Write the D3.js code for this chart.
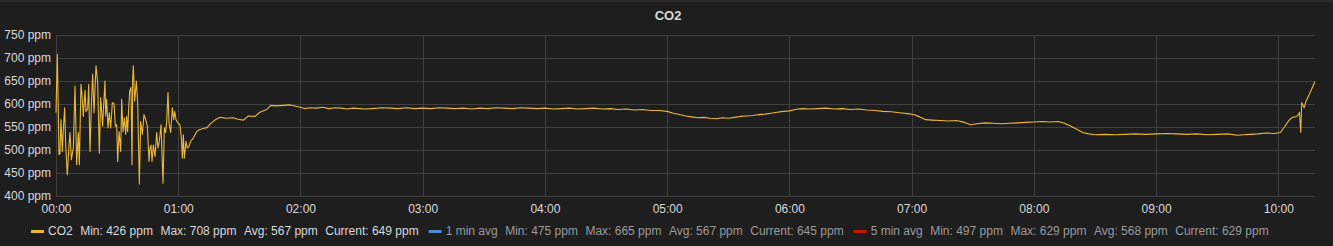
<!DOCTYPE html>
<html>
<head>
<meta charset="utf-8">
<script src="https://cdn.jsdelivr.net/npm/d3@7"></script>
<style>
    html, body { margin: 0; padding: 0; background: #1f1e1f; }
    svg { display: block; font-family: "Liberation Sans", Arial, Helvetica, sans-serif; }
</style>
</head>
<body>
<svg id="chart" width="1333" height="246"></svg>
<script>
// data: minutes since 00:00 and CO2 ppm
const co2Minutes = [
    0, 0.65, 1.47, 1.96, 2.45, 3.11, 3.6, 4.25, 4.75, 5.56, 6.38, 6.87, 7.53, 8.51, 9.33, 10.15, 10.96, 11.45,
    12.27, 12.76, 13.42, 14.24, 14.73, 15.55, 16.04, 16.69, 17.51, 18.0, 18.65, 19.64, 20.46, 21.27, 21.93,
    22.91, 23.23, 24.05, 24.38, 24.87, 25.53, 26.18, 26.84, 27.65, 28.47, 29.13, 29.78, 30.27, 30.93, 31.75,
    32.24, 32.89, 33.55, 34.2, 34.69, 35.18, 35.68, 36.17, 36.82, 37.31, 37.64, 37.97, 38.62, 39.44, 40.1,
    40.91, 41.57, 42.39, 43.2, 44.02, 44.84, 45.66, 46.15, 46.64, 47.13, 47.78, 48.6, 49.42, 50.07, 50.73,
    51.55, 52.04, 52.53, 53.18, 53.84, 54.33, 54.98, 55.47, 56.29, 57.11, 57.76, 58.26, 58.91, 59.73, 60.87,
    61.53, 62.02, 62.51, 63.0, 63.82, 64.47, 65.29, 66.11, 67.42, 69.06, 70.37, 73.15, 74, 76, 78, 80.5,
    83.8, 87, 89.3, 92, 94.4, 97.7, 100.1, 103.4, 105.4, 108, 111.6, 114.9, 117.8,
    120, 122, 125, 128, 131, 134, 137, 140, 143, 146, 149, 152, 155, 158, 160, 164, 168, 172, 176, 180,
    184, 188, 192, 196, 200, 204, 208, 212, 216, 220, 224, 228, 232, 236, 240, 244, 248, 252, 256, 260,
    264, 268, 272, 276, 280, 284, 288, 292, 296, 300, 303, 306, 309, 312, 315, 318, 321, 324, 327, 330,
    333, 336, 339, 342, 345, 348, 351, 354, 357, 360, 363, 366, 370, 374, 378, 382, 386, 390, 394, 398,
    402, 406, 410, 414, 418, 421, 424, 427, 430, 434, 438, 442, 446, 449, 452, 456, 460, 464, 468, 472,
    476, 480, 484, 488, 492, 495, 498, 501, 504, 507, 510, 515, 520, 525, 530, 535, 540, 545, 550, 555,
    560, 565, 570, 575, 580, 583, 586, 590, 594, 598, 601, 603, 604.5, 606, 607, 609, 610, 610.4, 611,
    611.5, 612.7, 613.6, 615.6, 618
];
const co2Values = [
    581, 708, 490, 492, 566, 497, 544, 592, 511, 446, 511, 538, 479, 505, 639, 468, 538, 468,
    643, 621, 573, 630, 584, 590, 643, 497, 617, 665, 581, 683, 646, 493, 614,
    552, 584, 650, 574, 610, 548, 581, 548, 603, 601, 552, 555, 475, 540, 497,
    610, 540, 570, 534, 573, 540, 592, 628, 636, 468, 655, 683, 606, 650, 601,
    426, 562, 534, 577, 566, 552, 475, 504, 511, 475, 511, 486, 538, 504, 519,
    555, 490, 428, 548, 538, 562, 625, 559, 538, 592, 566, 584, 566, 559, 555,
    526, 482, 533, 482, 519, 504, 508, 519, 526, 540, 544, 548, 548, 558, 565, 571,
    569, 570, 567, 565, 574, 573, 582, 588, 597, 596, 597, 598, 595,
    593, 590, 592, 591, 593, 590, 592, 591, 589, 591, 590, 589, 590, 591, 592, 591, 590, 592, 590, 591,
    590, 592, 591, 590, 591, 589, 591, 590, 592, 591, 590, 592, 591, 590, 591, 589, 590, 591, 589, 590,
    591, 589, 590, 588, 589, 587, 588, 586, 586, 584, 580, 577, 574, 572, 570, 571, 569, 568, 570, 569,
    571, 573, 574, 575, 577, 578, 580, 582, 584, 585, 588, 590, 589, 590, 591, 589, 590, 588, 589, 587,
    586, 584, 583, 581, 579, 577, 572, 566, 565, 564, 563, 564, 560, 555, 557, 559, 558, 557, 558, 559,
    560, 561, 562, 561, 562, 558, 552, 545, 538, 535, 533, 534, 533, 534, 535, 534, 535, 536, 535, 534,
    535, 533, 534, 535, 532, 533, 534, 535, 537, 536, 538, 550, 560, 568, 571, 573, 578, 582, 538,
    603, 592, 606, 625, 649
];
const yTicks = [400, 450, 500, 550, 600, 650, 700, 750];
const xTickHours = [0, 1, 2, 3, 4, 5, 6, 7, 8, 9, 10];
const legendNames = ["CO2", "1 min avg", "5 min avg"];
const legendColors = ["#eab839", "#508ad0", "#bf1b00"];
const legendMin = [426, 475, 497];
const legendMax = [708, 665, 629];
const legendAvg = [567, 567, 568];
const legendCurrent = [649, 645, 629];
const legendHidden = [false, true, true];

const svg = d3.select('#chart');
const W = 1333, H = 246;
const plot = {left: 56, right: 1315, top: 35, bottom: 196};

svg.append('rect').attr('width', W).attr('height', H).attr('fill', '#1f1e1f');
svg.append('rect').attr('width', W).attr('height', 2).attr('fill', '#2a2a2b');

// title
svg.append('text')
    .attr('x', 668).attr('y', 20)
    .attr('text-anchor', 'middle')
    .attr('fill', '#d8d9da')
    .attr('font-size', 13).attr('font-weight', 'bold')
    .text('CO2');

const x = d3.scaleLinear().domain([0, 618]).range([plot.left, plot.right]);
const y = d3.scaleLinear().domain([400, 750]).range([plot.bottom, plot.top]);

// grid
const grid = svg.append('g').attr('stroke', '#3f3f40').attr('stroke-width', 1).attr('shape-rendering', 'crispEdges');
grid.selectAll('line.h').data(yTicks).join('line')
    .attr('class', 'h')
    .attr('x1', plot.left).attr('x2', plot.right)
    .attr('y1', d => Math.round(y(d)) + 0.5).attr('y2', d => Math.round(y(d)) + 0.5);
grid.selectAll('line.v').data(xTickHours).join('line')
    .attr('class', 'v')
    .attr('x1', d => Math.round(x(d * 60)) + 0.5).attr('x2', d => Math.round(x(d * 60)) + 0.5)
    .attr('y1', plot.top).attr('y2', plot.bottom);

// axes
const yAxis = d3.axisLeft(y).tickValues(yTicks).tickSize(0).tickPadding(5).tickFormat(d => d + ' ppm');
svg.append('g').attr('transform', `translate(${plot.left},0)`).call(yAxis)
    .call(g => g.select('.domain').remove())
    .call(g => g.selectAll('text').attr('fill', '#d8d9da').attr('font-size', 12).attr('font-family', null));

const xAxis = d3.axisBottom(x).tickValues(xTickHours.map(h => h * 60)).tickSize(0).tickPadding(8)
    .tickFormat(d => String(d / 60).padStart(2, '0') + ':00');
svg.append('g').attr('transform', `translate(0,${plot.bottom})`).call(xAxis)
    .call(g => g.select('.domain').remove())
    .call(g => g.selectAll('text').attr('fill', '#d8d9da').attr('font-size', 12).attr('font-family', null));

// series
const points = co2Minutes.map((m, i) => [m, co2Values[i]]);
const line = d3.line().x(d => x(d[0])).y(d => y(d[1]));
svg.append('path')
    .datum(points)
    .attr('d', line)
    .attr('fill', 'none')
    .attr('stroke', '#eab839')
    .attr('stroke-width', 1.1)
    .attr('stroke-linejoin', 'round');

// legend
const legend = svg.append('g').attr('font-size', 12);
let lx = 31;
const ly = 235;
legendNames.forEach((name, i) => {
    const textColor = legendHidden[i] ? '#9a9a9b' : '#d8d9da';
    legend.append('rect')
        .attr('x', lx).attr('y', ly - 5).attr('width', 13).attr('height', 3)
        .attr('fill', legendColors[i]);
    lx += 17;
    const parts = [
        name,
        'Min: ' + legendMin[i] + ' ppm',
        'Max: ' + legendMax[i] + ' ppm',
        'Avg: ' + legendAvg[i] + ' ppm',
        'Current: ' + legendCurrent[i] + ' ppm'
    ];
    parts.forEach((p, j) => {
        const t = legend.append('text')
            .attr('x', lx).attr('y', ly)
            .attr('fill', textColor)
            .text(p);
        lx += t.node().getComputedTextLength() + (j < parts.length - 1 ? 7.5 : 10);
    });
});
</script>
</body>
</html>
